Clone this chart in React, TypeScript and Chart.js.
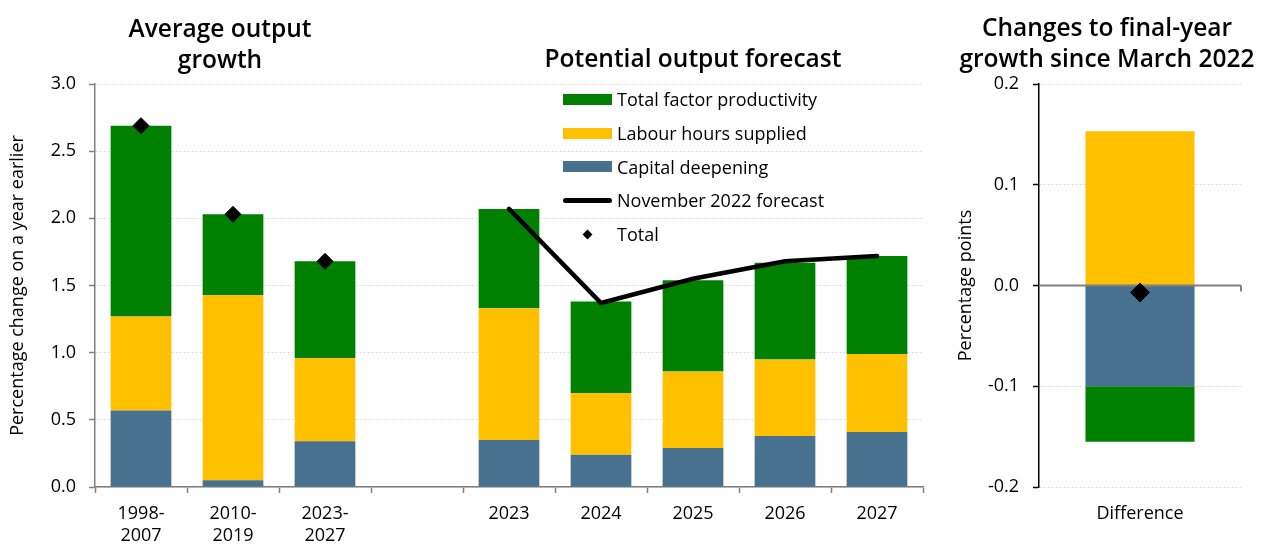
import React, { useEffect, useRef } from 'react';
import { Chart, registerables } from 'chart.js';

Chart.register(...registerables);

// ---------- Data ----------
const categories: (string | string[])[] = [
  ['1998-', '2007'],
  ['2010-', '2019'],
  ['2023-', '2027'],
  '',
  '2023',
  '2024',
  '2025',
  '2026',
  '2027',
];
const capitalDeepening = [0.57, 0.05, 0.34, null, 0.35, 0.24, 0.29, 0.38, 0.41];
const labourHours = [0.7, 1.38, 0.62, null, 0.98, 0.46, 0.57, 0.57, 0.58];
const tfp = [1.42, 0.6, 0.72, null, 0.74, 0.68, 0.68, 0.72, 0.73];
const totalMarkers = [2.69, 2.03, 1.68, null, null, null, null, null, null];
const november2022 = [null, null, null, null, 2.07, 1.37, 1.55, 1.68, 1.72];

const diffCategories = ['Difference'];
const diffCapital = [-0.1];
const diffLabour = [0.153];
const diffTfp = [-0.055];
const diffTotal = [-0.007];

const legendLabels = [
  'Total factor productivity',
  'Labour hours supplied',
  'Capital deepening',
  'November 2022 forecast',
  'Total',
];

// ---------- Styles ----------
const FONT = "'Open Sans', sans-serif";
const GREEN = '#008000';
const YELLOW = '#FFC000';
const BLUE = '#48718F';
const GRID = '#d9d9d9';
const AXIS = '#7f7f7f';

const tickFont = { family: FONT, size: 18 };
const titleFont = { family: FONT, size: 18 };

const zeroLinePlugin = {
  id: 'zeroLine',
  beforeDatasetDraw(chart: any, args: any) {
    if (args.meta.type !== 'line') return;
    const { ctx, chartArea, scales } = chart;
    const y0 = scales.y.getPixelForValue(0);
    ctx.save();
    ctx.strokeStyle = '#808080';
    ctx.lineWidth = 2;
    ctx.beginPath();
    ctx.moveTo(chartArea.left, y0);
    ctx.lineTo(chartArea.right, y0);
    ctx.moveTo(chartArea.right, y0);
    ctx.lineTo(chartArea.right, y0 + 6);
    ctx.stroke();
    ctx.restore();
  },
};

export default function App() {
  const leftRef = useRef<HTMLCanvasElement>(null);
  const rightRef = useRef<HTMLCanvasElement>(null);

  useEffect(() => {
    const left = new Chart(leftRef.current!, {
      type: 'bar',
      data: {
        labels: categories as any,
        datasets: [
          {
            type: 'line',
            label: 'November 2022 forecast',
            data: november2022 as any,
            borderColor: '#000',
            borderWidth: 4.5,
            pointRadius: 0,
            fill: false,
            tension: 0,
            borderCapStyle: 'round',
            stack: 'nov',
            order: 0,
          } as any,
          {
            type: 'line',
            label: 'Total',
            data: totalMarkers as any,
            showLine: false,
            pointStyle: 'rectRot',
            pointRadius: 8,
            pointBackgroundColor: '#000',
            pointBorderColor: '#000',
            stack: 'total',
            order: 0,
          } as any,
          {
            label: 'Capital deepening',
            data: capitalDeepening as any,
            backgroundColor: BLUE,
            stack: 'bars',
            order: 1,
            barPercentage: 0.66,
            categoryPercentage: 1,
          },
          {
            label: 'Labour hours supplied',
            data: labourHours as any,
            backgroundColor: YELLOW,
            stack: 'bars',
            order: 1,
            barPercentage: 0.66,
            categoryPercentage: 1,
          },
          {
            label: 'Total factor productivity',
            data: tfp as any,
            backgroundColor: GREEN,
            stack: 'bars',
            order: 1,
            barPercentage: 0.66,
            categoryPercentage: 1,
          },
        ],
      },
      options: {
        animation: false,
        responsive: false,
        maintainAspectRatio: false,
        devicePixelRatio: 1,
        layout: { padding: { top: 84, right: 12, left: 0, bottom: 0 } },
        plugins: {
          legend: { display: false },
          tooltip: { enabled: false },
          title: { display: false },
        },
        scales: {
          x: {
            stacked: true,
            grid: {
              offset: true,
              drawOnChartArea: false,
              drawTicks: true,
              tickLength: 6,
              tickColor: AXIS,
              tickWidth: 1.5,
              color: AXIS,
            },
            border: { color: AXIS, width: 1.5 },
            ticks: {
              font: tickFont,
              color: '#000',
              padding: 10,
              maxRotation: 0,
              autoSkip: false,
            },
            afterFit: (s: any) => {
              s.height = 57;
            },
          } as any,
          y: {
            stacked: true,
            min: 0,
            max: 3,
            ticks: {
              stepSize: 0.5,
              callback: (v: any) => Number(v).toFixed(1),
              font: tickFont,
              color: '#000',
              padding: 13,
            },
            grid: {
              color: GRID,
              lineWidth: 1,
              tickLength: 6,
              tickColor: AXIS,
              tickWidth: 1.5,
              tickBorderDash: [],
            },
            border: { color: AXIS, width: 1.5, dash: [2, 2] },
            title: {
              display: true,
              text: 'Percentage change on a year earlier',
              font: titleFont,
              color: '#000',
              padding: { top: 7, bottom: 0 },
            },
            afterFit: (s: any) => {
              s.width = 95;
            },
          } as any,
        },
      },
    });

    const right = new Chart(rightRef.current!, {
      type: 'bar',
      data: {
        labels: diffCategories,
        datasets: [
          {
            type: 'line',
            label: 'Total',
            data: diffTotal,
            showLine: false,
            pointStyle: 'rectRot',
            pointRadius: 9.5,
            pointBackgroundColor: '#000',
            pointBorderColor: '#000',
            stack: 'total',
            order: 0,
          } as any,
          {
            label: 'Capital deepening',
            data: diffCapital,
            backgroundColor: BLUE,
            stack: 'bars',
            order: 1,
            barPercentage: 0.54,
            categoryPercentage: 1,
          },
          {
            label: 'Labour hours supplied',
            data: diffLabour,
            backgroundColor: YELLOW,
            stack: 'bars',
            order: 1,
            barPercentage: 0.54,
            categoryPercentage: 1,
          },
          {
            label: 'Total factor productivity',
            data: diffTfp,
            backgroundColor: GREEN,
            stack: 'bars',
            order: 1,
            barPercentage: 0.54,
            categoryPercentage: 1,
          },
        ],
      },
      options: {
        animation: false,
        responsive: false,
        maintainAspectRatio: false,
        devicePixelRatio: 1,
        layout: { padding: { top: 84, right: 22, left: 0, bottom: 0 } },
        plugins: {
          legend: { display: false },
          tooltip: { enabled: false },
          title: { display: false },
        },
        scales: {
          x: {
            stacked: true,
            grid: { display: true, drawOnChartArea: false, drawTicks: false },
            border: { display: false },
            ticks: { font: tickFont, color: '#000', padding: 16 },
            afterFit: (s: any) => {
              s.height = 57;
            },
          } as any,
          y: {
            stacked: true,
            min: -0.2,
            max: 0.2,
            ticks: {
              stepSize: 0.1,
              callback: (v: any) => {
                const n = Math.round(Number(v) * 10) / 10;
                return (n === 0 ? 0 : n).toFixed(1);
              },
              font: tickFont,
              color: '#000',
              padding: 14,
            },
            grid: {
              color: (c: any) => (Math.abs(c.tick?.value ?? 1) < 1e-9 ? 'rgba(0,0,0,0)' : GRID),
              lineWidth: 1,
              tickLength: 6,
              tickColor: '#000',
              tickWidth: 1.5,
              tickBorderDash: [],
            },
            border: { color: '#000', width: 1.5, dash: [2, 2] },
            title: {
              display: true,
              text: 'Percentage points',
              font: titleFont,
              color: '#000',
              padding: { top: 20, bottom: 0 },
            },
            afterFit: (s: any) => {
              s.width = 104;
            },
          } as any,
        },
      },
      plugins: [zeroLinePlugin],
    });

    return () => {
      left.destroy();
      right.destroy();
    };
  }, []);

  const titleStyle = (center: number, top: number, width: number): React.CSSProperties => ({
    position: 'absolute',
    left: center - width / 2,
    top,
    width,
    textAlign: 'center',
    fontFamily: FONT,
    fontSize: 24.5,
    fontWeight: 600,
    lineHeight: '31px',
    color: '#000',
    whiteSpace: 'nowrap',
  });

  const legendColors = [GREEN, YELLOW, BLUE];

  return (
    <div
      style={{
        position: 'absolute',
        left: 0,
        top: 0,
        width: 1263,
        height: 544,
        background: '#fff',
        overflow: 'hidden',
        fontFamily: FONT,
      }}
    >
      <canvas
        ref={leftRef}
        width={935}
        height={544}
        style={{ position: 'absolute', left: 0, top: 0, width: 935, height: 544 }}
      />
      <canvas
        ref={rightRef}
        width={328}
        height={544}
        style={{ position: 'absolute', left: 935, top: 0, width: 328, height: 544 }}
      />
      <div style={titleStyle(220, 12, 320)}>
        Average output
        <br />
        growth
      </div>
      <div style={titleStyle(693, 42, 400)}>Potential output forecast</div>
      <div style={titleStyle(1107, 11, 340)}>
        Changes to final-year
        <br />
        growth since March 2022
      </div>
      <div style={{ position: 'absolute', left: 563, top: 82.5 }}>
        {legendLabels.map((lab, i) => (
          <div
            key={lab}
            style={{ display: 'flex', alignItems: 'center', height: 33.7, whiteSpace: 'nowrap' }}
          >
            <div style={{ width: 49, height: 16, position: 'relative', flex: 'none' }}>
              {i < 3 && (
                <div
                  style={{
                    position: 'absolute',
                    left: 0,
                    top: 2.5,
                    width: 49,
                    height: 11,
                    background: legendColors[i],
                  }}
                />
              )}
              {i === 3 && (
                <div
                  style={{
                    position: 'absolute',
                    left: 0,
                    top: 5.75,
                    width: 49,
                    height: 4.5,
                    borderRadius: 2.5,
                    background: '#000',
                  }}
                />
              )}
              {i === 4 && (
                <div
                  style={{
                    position: 'absolute',
                    left: 21,
                    top: 4.5,
                    width: 7,
                    height: 7,
                    background: '#000',
                    transform: 'rotate(45deg)',
                  }}
                />
              )}
            </div>
            <span style={{ marginLeft: 5, fontSize: 18, color: '#000', lineHeight: '20px' }}>{lab}</span>
          </div>
        ))}
      </div>
    </div>
  );
}
